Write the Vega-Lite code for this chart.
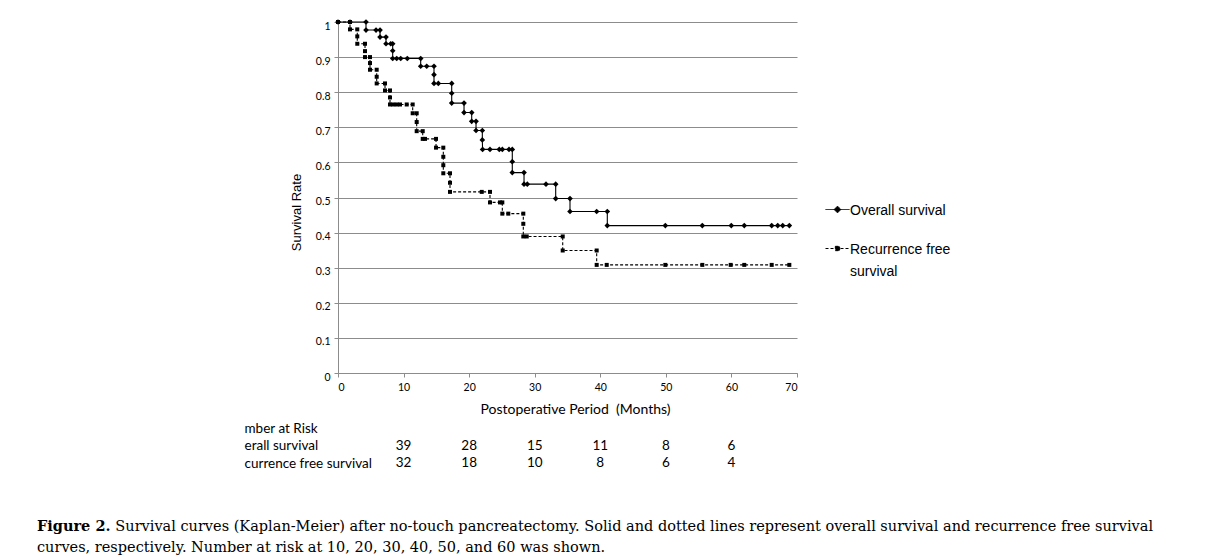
{
  "$schema": "https://vega.github.io/schema/vega-lite/v6.json",
  "width": 459,
  "height": 351,
  "autosize": {"type": "none"},
  "padding": {"left": 338, "top": 22, "right": 420, "bottom": 183},
  "background": "white",
  "config": {"view": {"stroke": null}},
  "title": {
    "text": "Figure 2.",
    "subtitle": ["\u200b\u00a0\u00a0\u00a0\u00a0\u00a0\u00a0\u00a0\u00a0\u00a0\u00a0\u00a0\u00a0\u00a0\u00a0\u00a0\u00a0\u00a0Survival curves (Kaplan-Meier) after no-touch pancreatectomy. Solid and dotted lines represent overall survival and recurrence free survival", "curves, respectively. Number at risk at 10, 20, 30, 40, 50, and 60 was shown."],
    "orient": "bottom",
    "anchor": "start",
    "frame": "group",
    "offset": 50,
    "dx": -301,
    "font": "DejaVu Serif",
    "fontSize": 14.5,
    "fontWeight": "bold",
    "color": "black",
    "subtitleFont": "DejaVu Serif",
    "subtitleFontSize": 14.5,
    "subtitleColor": "black",
    "subtitlePadding": -14.5,
    "subtitleLineHeight": 21
  },
  "datasets": {
    "curves": [
      {"series": "OS", "i": 1, "t": 0, "S": 1},
      {"series": "OS", "i": 2, "t": 1.83, "S": 1},
      {"series": "OS", "i": 3, "t": 4.27, "S": 1},
      {"series": "OS", "i": 4, "t": 4.27, "S": 0.977},
      {"series": "OS", "i": 5, "t": 5.8, "S": 0.977},
      {"series": "OS", "i": 6, "t": 6.41, "S": 0.977},
      {"series": "OS", "i": 7, "t": 6.41, "S": 0.957},
      {"series": "OS", "i": 8, "t": 7.32, "S": 0.957},
      {"series": "OS", "i": 9, "t": 7.32, "S": 0.938},
      {"series": "OS", "i": 10, "t": 8.04, "S": 0.938},
      {"series": "OS", "i": 11, "t": 8.34, "S": 0.938},
      {"series": "OS", "i": 12, "t": 8.34, "S": 0.918},
      {"series": "OS", "i": 13, "t": 8.34, "S": 0.896},
      {"series": "OS", "i": 14, "t": 8.95, "S": 0.896},
      {"series": "OS", "i": 15, "t": 9.56, "S": 0.896},
      {"series": "OS", "i": 16, "t": 10.57, "S": 0.896},
      {"series": "OS", "i": 17, "t": 12.61, "S": 0.896},
      {"series": "OS", "i": 18, "t": 12.61, "S": 0.874},
      {"series": "OS", "i": 19, "t": 13.53, "S": 0.874},
      {"series": "OS", "i": 20, "t": 14.64, "S": 0.874},
      {"series": "OS", "i": 21, "t": 14.64, "S": 0.85},
      {"series": "OS", "i": 22, "t": 14.64, "S": 0.825},
      {"series": "OS", "i": 23, "t": 15.3, "S": 0.825},
      {"series": "OS", "i": 24, "t": 17.34, "S": 0.825},
      {"series": "OS", "i": 25, "t": 17.34, "S": 0.797},
      {"series": "OS", "i": 26, "t": 17.34, "S": 0.769},
      {"series": "OS", "i": 27, "t": 19.22, "S": 0.769},
      {"series": "OS", "i": 28, "t": 19.22, "S": 0.742},
      {"series": "OS", "i": 29, "t": 20.39, "S": 0.742},
      {"series": "OS", "i": 30, "t": 20.39, "S": 0.717},
      {"series": "OS", "i": 31, "t": 21.05, "S": 0.717},
      {"series": "OS", "i": 32, "t": 21.05, "S": 0.691},
      {"series": "OS", "i": 33, "t": 22.01, "S": 0.691},
      {"series": "OS", "i": 34, "t": 22.01, "S": 0.664},
      {"series": "OS", "i": 35, "t": 22.05, "S": 0.637},
      {"series": "OS", "i": 36, "t": 23.18, "S": 0.637},
      {"series": "OS", "i": 37, "t": 24.6, "S": 0.637},
      {"series": "OS", "i": 38, "t": 25.06, "S": 0.637},
      {"series": "OS", "i": 39, "t": 26.08, "S": 0.637},
      {"series": "OS", "i": 40, "t": 26.58, "S": 0.637},
      {"series": "OS", "i": 41, "t": 26.58, "S": 0.602},
      {"series": "OS", "i": 42, "t": 26.58, "S": 0.571},
      {"series": "OS", "i": 43, "t": 28.37, "S": 0.571},
      {"series": "OS", "i": 44, "t": 28.37, "S": 0.538},
      {"series": "OS", "i": 45, "t": 28.87, "S": 0.538},
      {"series": "OS", "i": 46, "t": 31.72, "S": 0.538},
      {"series": "OS", "i": 47, "t": 33.2, "S": 0.538},
      {"series": "OS", "i": 48, "t": 33.2, "S": 0.497},
      {"series": "OS", "i": 49, "t": 35.38, "S": 0.497},
      {"series": "OS", "i": 50, "t": 35.38, "S": 0.46},
      {"series": "OS", "i": 51, "t": 39.45, "S": 0.46},
      {"series": "OS", "i": 52, "t": 41.07, "S": 0.46},
      {"series": "OS", "i": 53, "t": 41.07, "S": 0.42},
      {"series": "OS", "i": 54, "t": 49.92, "S": 0.42},
      {"series": "OS", "i": 55, "t": 55.56, "S": 0.42},
      {"series": "OS", "i": 56, "t": 59.98, "S": 0.42},
      {"series": "OS", "i": 57, "t": 61.96, "S": 0.42},
      {"series": "OS", "i": 58, "t": 66.14, "S": 0.42},
      {"series": "OS", "i": 59, "t": 67.06, "S": 0.42},
      {"series": "OS", "i": 60, "t": 67.82, "S": 0.42},
      {"series": "OS", "i": 61, "t": 68.83, "S": 0.42},
      {"series": "RFS", "i": 1, "t": 0, "S": 1},
      {"series": "RFS", "i": 2, "t": 1.83, "S": 1},
      {"series": "RFS", "i": 3, "t": 1.83, "S": 0.979},
      {"series": "RFS", "i": 4, "t": 2.94, "S": 0.979},
      {"series": "RFS", "i": 5, "t": 2.94, "S": 0.959},
      {"series": "RFS", "i": 6, "t": 2.94, "S": 0.938},
      {"series": "RFS", "i": 7, "t": 4.12, "S": 0.938},
      {"series": "RFS", "i": 8, "t": 4.12, "S": 0.917},
      {"series": "RFS", "i": 9, "t": 4.12, "S": 0.9},
      {"series": "RFS", "i": 10, "t": 4.88, "S": 0.9},
      {"series": "RFS", "i": 11, "t": 4.88, "S": 0.883},
      {"series": "RFS", "i": 12, "t": 4.88, "S": 0.864},
      {"series": "RFS", "i": 13, "t": 5.9, "S": 0.864},
      {"series": "RFS", "i": 14, "t": 5.9, "S": 0.844},
      {"series": "RFS", "i": 15, "t": 5.9, "S": 0.825},
      {"series": "RFS", "i": 16, "t": 7.17, "S": 0.825},
      {"series": "RFS", "i": 17, "t": 7.17, "S": 0.805},
      {"series": "RFS", "i": 18, "t": 7.93, "S": 0.805},
      {"series": "RFS", "i": 19, "t": 7.93, "S": 0.785},
      {"series": "RFS", "i": 20, "t": 7.93, "S": 0.765},
      {"series": "RFS", "i": 21, "t": 8.43, "S": 0.765},
      {"series": "RFS", "i": 22, "t": 8.95, "S": 0.765},
      {"series": "RFS", "i": 23, "t": 9.46, "S": 0.765},
      {"series": "RFS", "i": 24, "t": 10.48, "S": 0.765},
      {"series": "RFS", "i": 25, "t": 11.39, "S": 0.765},
      {"series": "RFS", "i": 26, "t": 11.39, "S": 0.74},
      {"series": "RFS", "i": 27, "t": 12.0, "S": 0.74},
      {"series": "RFS", "i": 28, "t": 12.0, "S": 0.715},
      {"series": "RFS", "i": 29, "t": 12.0, "S": 0.689},
      {"series": "RFS", "i": 30, "t": 12.92, "S": 0.689},
      {"series": "RFS", "i": 31, "t": 12.92, "S": 0.667},
      {"series": "RFS", "i": 32, "t": 13.27, "S": 0.667},
      {"series": "RFS", "i": 33, "t": 14.95, "S": 0.667},
      {"series": "RFS", "i": 34, "t": 14.95, "S": 0.642},
      {"series": "RFS", "i": 35, "t": 16.06, "S": 0.642},
      {"series": "RFS", "i": 36, "t": 16.06, "S": 0.616},
      {"series": "RFS", "i": 37, "t": 16.06, "S": 0.592},
      {"series": "RFS", "i": 38, "t": 16.06, "S": 0.569},
      {"series": "RFS", "i": 39, "t": 17.08, "S": 0.569},
      {"series": "RFS", "i": 40, "t": 17.08, "S": 0.542},
      {"series": "RFS", "i": 41, "t": 17.08, "S": 0.516},
      {"series": "RFS", "i": 42, "t": 21.92, "S": 0.516},
      {"series": "RFS", "i": 43, "t": 23.18, "S": 0.516},
      {"series": "RFS", "i": 44, "t": 23.18, "S": 0.486},
      {"series": "RFS", "i": 45, "t": 24.71, "S": 0.486},
      {"series": "RFS", "i": 46, "t": 25.06, "S": 0.486},
      {"series": "RFS", "i": 47, "t": 25.06, "S": 0.454},
      {"series": "RFS", "i": 48, "t": 25.97, "S": 0.454},
      {"series": "RFS", "i": 49, "t": 28.26, "S": 0.454},
      {"series": "RFS", "i": 50, "t": 28.26, "S": 0.425},
      {"series": "RFS", "i": 51, "t": 28.26, "S": 0.389},
      {"series": "RFS", "i": 52, "t": 28.78, "S": 0.389},
      {"series": "RFS", "i": 53, "t": 34.27, "S": 0.389},
      {"series": "RFS", "i": 54, "t": 34.27, "S": 0.349},
      {"series": "RFS", "i": 55, "t": 39.45, "S": 0.349},
      {"series": "RFS", "i": 56, "t": 39.45, "S": 0.308},
      {"series": "RFS", "i": 57, "t": 40.98, "S": 0.308},
      {"series": "RFS", "i": 58, "t": 49.92, "S": 0.308},
      {"series": "RFS", "i": 59, "t": 55.56, "S": 0.308},
      {"series": "RFS", "i": 60, "t": 59.89, "S": 0.308},
      {"series": "RFS", "i": 61, "t": 61.96, "S": 0.308},
      {"series": "RFS", "i": 62, "t": 66.14, "S": 0.308},
      {"series": "RFS", "i": 63, "t": 68.83, "S": 0.308}
    ],
    "risk": [
      {"row": "OS", "month": 10, "n": 39},
      {"row": "OS", "month": 20, "n": 28},
      {"row": "OS", "month": 30, "n": 15},
      {"row": "OS", "month": 40, "n": 11},
      {"row": "OS", "month": 50, "n": 8},
      {"row": "OS", "month": 60, "n": 6},
      {"row": "RFS", "month": 10, "n": 32},
      {"row": "RFS", "month": 20, "n": 18},
      {"row": "RFS", "month": 30, "n": 10},
      {"row": "RFS", "month": 40, "n": 8},
      {"row": "RFS", "month": 50, "n": 6},
      {"row": "RFS", "month": 60, "n": 4}
    ]
  },
  "layer": [
    {
      "data": {"name": "curves"},
      "encoding": {
        "x": {
          "field": "t", "type": "quantitative",
          "scale": {"domain": [0, 70], "nice": false, "zero": false},
          "axis": {
            "values": [0, 10, 20, 30, 40, 50, 60, 70],
            "title": "Postoperative Period\u00a0 (Months)",
            "titleFont": "Lato", "titleFontSize": 14, "titleFontWeight": "normal", "titleColor": "black",
            "titleX": 237, "titleY": 36, "titleBaseline": "middle", "titleAlign": "center",
            "labelFont": "Lato", "labelFontSize": 10.5, "labelColor": "black", "labelPadding": 5,
            "grid": false, "domainColor": "#8c8c8c", "tickColor": "#8c8c8c", "tickSize": 4
          }
        },
        "y": {
          "field": "S", "type": "quantitative",
          "scale": {"domain": [0, 1], "nice": false},
          "axis": {
            "values": [0, 0.1, 0.2, 0.3, 0.4, 0.5, 0.6, 0.7, 0.8, 0.9, 1],
            "format": "~g",
            "title": "Survival Rate",
            "titleFont": "Liberation Sans", "titleFontSize": 13, "titleFontWeight": "normal", "titleColor": "black",
            "titleX": -42, "titleY": 190, "titleAngle": -90, "titleAlign": "center", "titleBaseline": "middle",
            "labelFont": "Lato", "labelFontSize": 10.5, "labelColor": "black", "labelPadding": 4, "labelOffset": 4,
            "grid": true, "gridColor": "#8c8c8c", "gridWidth": 1,
            "domainColor": "#8c8c8c", "tickColor": "#8c8c8c", "tickSize": 4
          }
        }
      },
      "layer": [
        {
          "mark": {"type": "line", "color": "black", "strokeWidth": 1.1},
          "encoding": {
            "order": {"field": "i", "type": "quantitative"},
            "strokeDash": {
              "field": "series", "type": "nominal",
              "scale": {"domain": ["OS", "RFS"], "range": [[1, 0], [3, 2]]},
              "legend": {
                "orient": "none", "legendX": 487, "legendY": 175,
                "title": null,
                "labelFont": "Liberation Sans", "labelFontSize": 14, "labelColor": "black",
                "labelExpr": "datum.value == 'RFS' ? ['Recurrence free', 'survival'] : 'Overall survival'",
                "labelBaseline": "alphabetic", "labelOffset": 0, "labelLimit": 300,
                "symbolSize": 576, "symbolStrokeWidth": 1, "symbolFillColor": "black", "symbolStrokeColor": "black",
                "rowPadding": 18,
                "encode": {
                  "symbols": {
                    "enter": {
                      "shape": {"signal": "datum.value == 'OS' ? 'M-1,0H1M0,-0.28L0.28,0L0,0.28L-0.28,0Z' : 'M-1,0H1M-0.18,-0.18H0.18V0.18H-0.18Z'"},
                      "fill": {"value": "black"},
                      "stroke": {"value": "black"}
                    },
                    "update": {
                      "shape": {"signal": "datum.value == 'OS' ? 'M-1,0H1M0,-0.28L0.28,0L0,0.28L-0.28,0Z' : 'M-1,0H1M-0.18,-0.18H0.18V0.18H-0.18Z'"},
                      "fill": {"value": "black"},
                      "stroke": {"value": "black"},
                      "opacity": {"value": 1}
                    }
                  },
                  "labels": {"update": {"dy": {"value": 5}, "lineHeight": {"value": 22}}}
                }
              }
            }
          }
        },
        {
          "transform": [{"filter": "datum.series == 'OS'"}],
          "mark": {"type": "point", "shape": "diamond", "filled": true, "color": "black", "opacity": 1, "size": 32}
        },
        {
          "transform": [{"filter": "datum.series == 'RFS'"}],
          "mark": {"type": "point", "shape": "square", "filled": true, "color": "black", "opacity": 1, "size": 16}
        }
      ]
    },
    {
      "data": {"name": "risk"},
      "mark": {"type": "text", "font": "Lato", "fontSize": 13.5, "color": "black"},
      "encoding": {
        "x": {"field": "month", "type": "quantitative"},
        "y": {
          "field": "row", "type": "ordinal",
          "scale": {"type": "point", "domain": ["H", "OS", "RFS"], "range": [406, 441], "padding": 0},
          "axis": {
            "orient": "left", "offset": 94, "title": null,
            "domain": false, "ticks": false, "tickSize": 0, "grid": false,
            "labelAlign": "left", "labelPadding": 0, "labelBaseline": "middle",
            "labelFont": "Lato", "labelFontSize": 13.5, "labelColor": "black", "labelLimit": 300,
            "labelExpr": "datum.value == 'H' ? 'mber at Risk' : datum.value == 'OS' ? 'erall survival' : 'currence free survival'"
          }
        },
        "text": {"field": "n", "type": "quantitative"}
      }
    }
  ],
  "resolve": {"scale": {"y": "independent"}, "axis": {"y": "independent"}}
}
